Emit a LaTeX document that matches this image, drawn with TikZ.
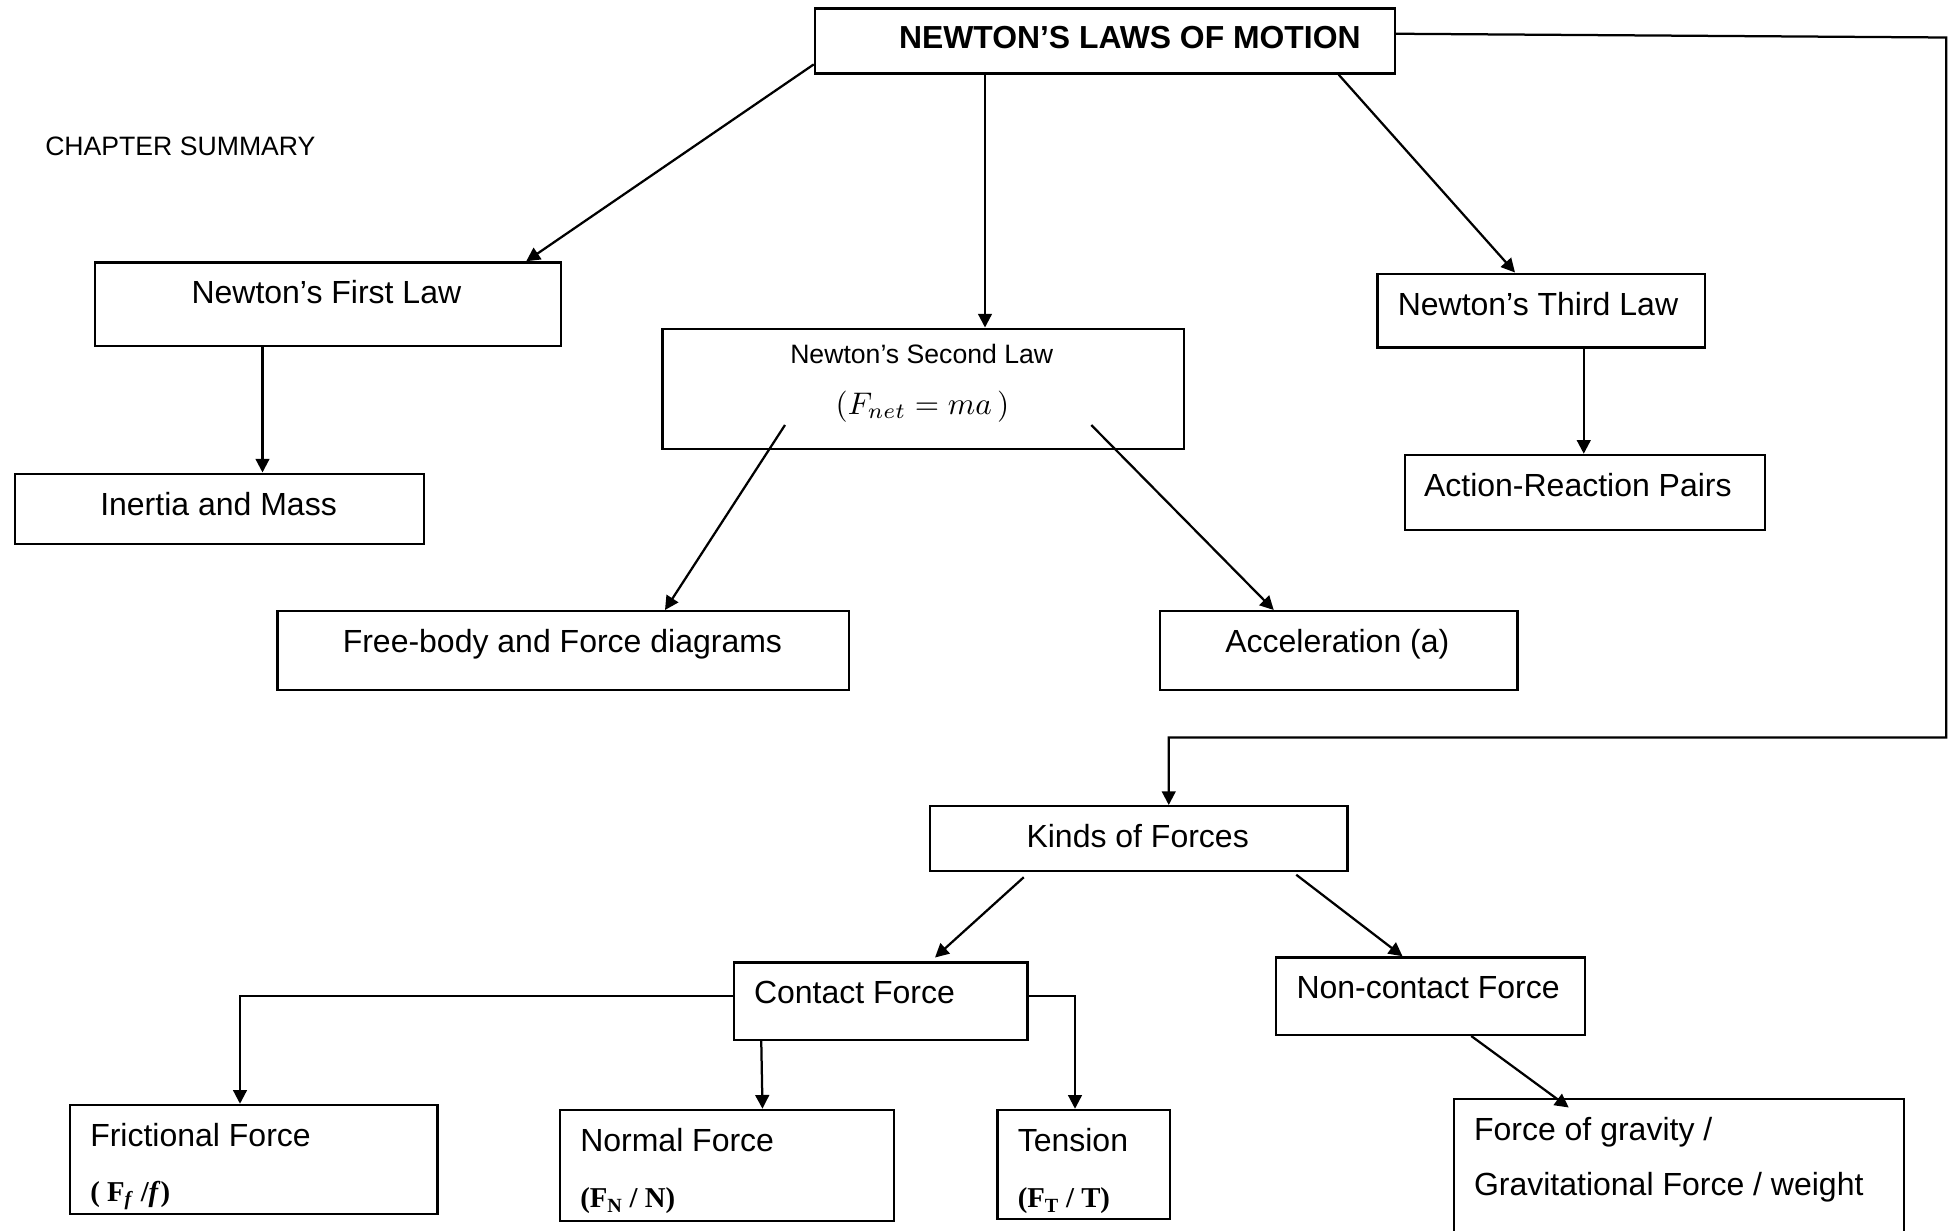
\documentclass[tikz,border=0pt]{standalone}
\usepackage{fontspec}
\setmainfont{Liberation Sans}
\newfontfamily\serifb{Liberation Serif}
\usetikzlibrary{arrows.meta,calc}
\begin{document}
\begin{tikzpicture}[x=1pt,y=-1pt,
  box/.style={draw, line width=1.8pt, rectangle, inner sep=0pt, anchor=north west},
  lbl/.style={anchor=base west, inner sep=0pt, font=\fontsize{25.6}{30}\selectfont},
  small/.style={anchor=base west, inner sep=0pt, font=\fontsize{21.3}{26}\selectfont},
  sym/.style={anchor=base west, inner sep=0pt, font=\serifb\bfseries\fontsize{23}{28}\selectfont},
  conn/.style={line width=1.8pt, -{Triangle[length=11pt,width=11pt]}}]
\clip (0,0) rectangle (1565.6,984.8);
\fill[white] (0,0) rectangle (1565.6,984.8);
% boxes
\node[box, minimum width=464pt, minimum height=52pt] (title) at (651,6) {};
\node[box, minimum width=373pt, minimum height=67pt] (first) at (75,209) {};
\node[box, minimum width=327pt, minimum height=56pt] (inertia) at (11,378) {};
\node[box, minimum width=417pt, minimum height=96pt] (second) at (529,262) {};
\node[box, minimum width=262pt, minimum height=59pt] (third) at (1101,218) {};
\node[box, minimum width=288pt, minimum height=60pt] (action) at (1123,363) {};
\node[box, minimum width=457pt, minimum height=63pt] (free) at (221,488) {};
\node[box, minimum width=286pt, minimum height=63pt] (accel) at (927,488) {};
\node[box, minimum width=334pt, minimum height=52pt] (kinds) at (743,644) {};
\node[box, minimum width=235pt, minimum height=62pt] (contact) at (586,769) {};
\node[box, minimum width=247pt, minimum height=62pt] (noncontact) at (1020,765) {};
\node[box, minimum width=294pt, minimum height=87pt] (fric) at (55,883) {};
\node[box, minimum width=267pt, minimum height=89pt] (normal) at (447,887) {};
\node[box, minimum width=138pt, minimum height=87pt] (tension) at (797,887) {};
\node[box, minimum width=360pt, minimum height=140pt] (gravity) at (1162,878) {};
% texts
\node[lbl, font=\bfseries\fontsize{25.5}{30}\selectfont] (titleT) at (719,39) {NEWTON’S LAWS OF MOTION};
\node[small] (chap) at (36,124) {CHAPTER SUMMARY};
\node[lbl] (firstT) at (153,243) {Newton’s First Law};
\node[lbl] (inertiaT) at (80,412) {Inertia and Mass};
\node[small] (secondT) at (632,291) {Newton’s Second Law};
\node[inner sep=0pt, scale=2.5] (formula) at (738,325) {$(F_{net} = ma\,)$};
\node[lbl] (thirdT) at (1118,252) {Newton’s Third Law};
\node[lbl] (actionT) at (1139,397) {Action-Reaction Pairs};
\node[lbl] (freeT) at (274,522) {Free-body and Force diagrams};
\node[lbl] (accelT) at (980,522) {Acceleration (a)};
\node[lbl] (kindsT) at (821,678) {Kinds of Forces};
\node[lbl] (contactT) at (603,803) {Contact Force};
\node[lbl] (noncontactT) at (1037,799) {Non-contact Force};
\node[lbl] (fricT) at (72,917) {Frictional Force};
\node[sym] (fricS) at (72,961) {( F\textsubscript{\textit{f}} /\textit{f})};
\node[lbl] (normalT) at (464,921) {Normal Force};
\node[sym] (normalS) at (464,966) {(F\textsubscript{N} / N)};
\node[lbl] (tensionT) at (814,921) {Tension};
\node[sym] (tensionS) at (814,966) {(F\textsubscript{T} / T)};
\node[lbl] (gravT) at (1179,912) {Force of gravity /};
\node[lbl] (gravT2) at (1179,956) {Gravitational Force / weight};
% connectors
\draw[conn] ($(title.north west)!0.846!(title.south west)$) -- ($(first.north west)+(346,0)$);
\draw[conn] ($(title.south west)+(137,0)$) -- ($(second.north west)+(259,0)$);
\draw[conn] ($(title.south west)+(420,0)$) -- ($(third.north west)+(111,0)$);
\coordinate (c1) at (1557,30);
\coordinate (c2) at (1557,590);
\draw[conn] ($(title.north east)+(0,21)$) -- (c1) -- (c2) -| ($(kinds.north west)+(192,0)$);
\draw[conn] ($(first.south west)+(135,0)$) -- ($(inertia.north west)+(199,0)$);
\draw[conn] ($(third.south west)+(166,0)$) -- ($(action.north west)+(144,0)$);
\draw[conn] ($(second.north west)+(99,78)$) -- ($(free.north west)+(311,0)$);
\draw[conn] ($(second.north west)+(344,78)$) -- ($(accel.north west)+(92,0)$);
\draw[conn] ($(kinds.south west)+(76,4)$) -- ($(contact.north west)+(162,-3)$);
\draw[conn] ($(kinds.south west)+(294,2)$) -- ($(noncontact.north west)+(102,0)$);
\draw[conn] ($(contact.north west)+(0,28)$) -| ($(fric.north west)+(137,0)$);
\draw[conn] ($(contact.south west)+(23,0)$) -- ($(normal.north west)+(163,0)$);
\draw[conn] ($(contact.north east)+(0,28)$) -| ($(tension.north west)+(63,0)$);
\draw[conn] ($(noncontact.south west)+(157,0)$) -- ($(gravity.north west)+(93,8)$);
\end{tikzpicture}
\end{document}
